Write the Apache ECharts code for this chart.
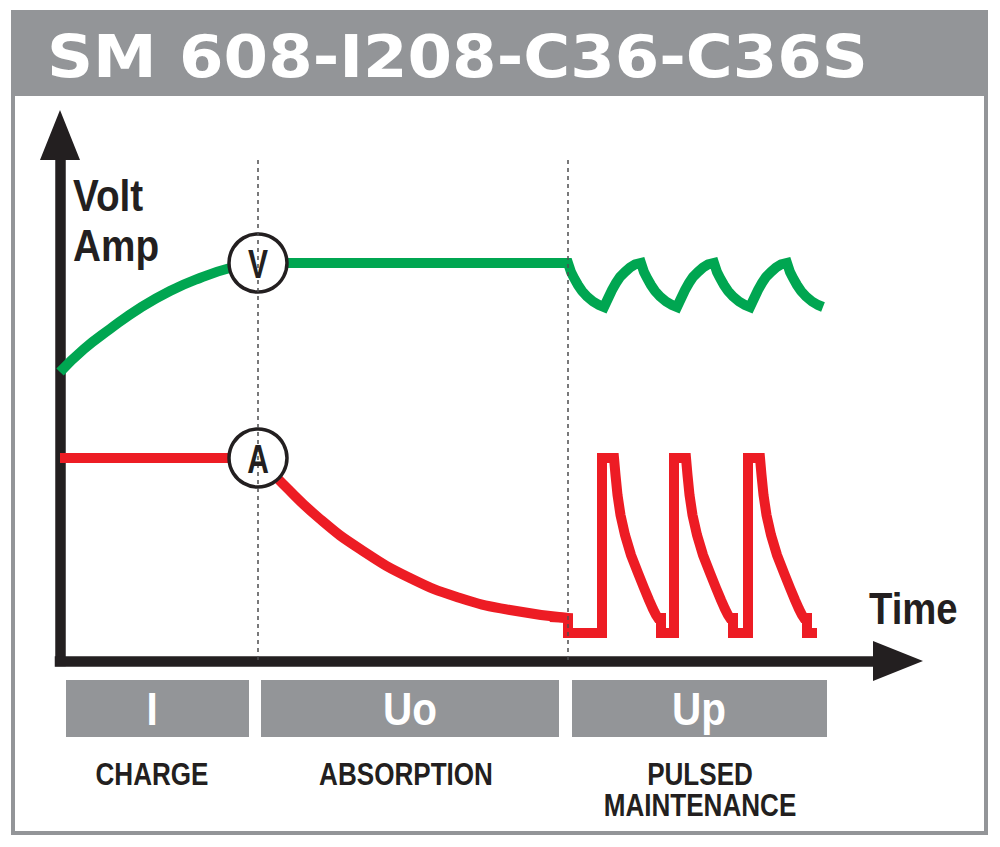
<!DOCTYPE html>
<html>
<head>
<meta charset="utf-8">
<script src="https://cdn.jsdelivr.net/npm/echarts@6/dist/echarts.min.js"></script>
<style>
  html, body { margin: 0; padding: 0; background: #ffffff; }
  #chart { width: 1000px; height: 847px; }
</style>
</head>
<body>
<div id="chart"></div>
<script>
// ---------- data (time units / level units) ----------
const titleText = 'SM 608-I208-C36-C36S';
const timeRange = [0, 419];
const levelRange = [0, 263];

// Voltage (green)
const greenChargeCurve = [[0,144.5],[12,156],[25,166],[40,176.5],[55,185],[70,191.5],[85,196.5],[99,199]];
const greenHoldAndPulse = [
  [99,199],[254,199],
  [255.5,194.5],[257,191.5],[259,188],[261,185],[263.5,182.25],[266.5,179.75],[269.5,178],[272,177],
  [274,181.25],[276,185.5],[278,189],[280,192],[282.5,194.5],[285,196.75],[287.5,198.25],[290.5,199],
  [292,194.5],[293.5,191.5],[295.5,188],[297.5,185],[300,182.25],[303,179.75],[306,178],[308.5,177],
  [310.5,181.25],[312.5,185.5],[314.5,189],[316.5,192],[319,194.5],[321.5,196.75],[324,198.25],[327,199],
  [328.5,194.5],[330,191.5],[332,188],[334,185],[336.5,182.25],[339.5,179.75],[342.5,178],[345,177],
  [347,181.25],[349,185.5],[351,189],[353,192],[355.5,194.5],[358,196.75],[360.5,198.25],[363.5,199],
  [365,194.5],[366.5,191.5],[368.5,188],[370.5,185],[373,182.25],[376,179.75],[379,178],[381.5,177]
];

// Current (red)
const redChargeFlat = [[0,101.5],[99,101.5]];
const redAbsorptionCurve = [[99,101.5],[111.5,88.5],[130,71],[150,56],[175,41.5],[200,31.5],[225,25.5],[254,21.5]];
const redPulses = [
  [245,22],[254,21.5],[254,14],[271,14],[271,101.5],[277,101.5],
  [277.75,93],[278.75,83],[280.25,73],[282.5,63],[285.5,53],[289,44],[292,36.5],[294.5,30.5],[296.5,26],[298,23],[299,21.5],
  [300.5,21.5],[300.5,14],[307,14],[307,101.5],[313,101.5],
  [313.75,93],[314.75,83],[316.25,73],[318.5,63],[321.5,53],[325,44],[328,36.5],[330.5,30.5],[332.5,26],[334,23],[335,21.5],
  [336.5,21.5],[336.5,14],[344,14],[344,101.5],[350,101.5],
  [350.75,93],[351.75,83],[353.25,73],[355.5,63],[358.5,53],[362,44],[365,36.5],[367.5,30.5],[369.5,26],[371,23],[372,21.5],
  [373.5,21.5],[373.5,14],[378.5,14]
];

const phaseBoundaries = [99, 254];
const dashTop = 250.5;
const markerPoints = [[99,199,'V'],[99,101.5,'A']];
const phaseCodes = ['I', 'Uo', 'Up'];
const phaseNames = ['CHARGE', 'ABSORPTION', 'PULSED\nMAINTENANCE'];
const yAxisLabel = 'Volt\nAmp';
const xAxisLabel = 'Time';

// ---------- styling ----------
const GREEN = '#00a651';
const RED = '#ed1c24';
const INK = '#231f20';
const GRAY = '#939598';
const SANS = '"Liberation Sans", Arial, Helvetica, sans-serif';

const segments = [
  { data: greenChargeCurve, color: GREEN, smooth: true },
  { data: greenHoldAndPulse, color: GREEN, smooth: false },
  { data: redChargeFlat, color: RED, smooth: false },
  { data: redAbsorptionCurve, color: RED, smooth: true },
  { data: redPulses, color: RED, smooth: false }
];

const series = segments.map(s => ({
  type: 'line',
  data: s.data,
  smooth: s.smooth,
  showSymbol: false,
  symbol: 'none',
  silent: true,
  z: 2,
  lineStyle: { color: s.color, width: 10, join: 'miter', cap: 'butt' }
}));

series.push({
  type: 'line',
  data: [],
  silent: true,
  z: 3,
  markLine: {
    silent: true,
    symbol: ['none', 'none'],
    label: { show: false },
    lineStyle: { type: [4, 4], color: '#4d4d4f', width: 1.5 },
    data: phaseBoundaries.map(x => [{ coord: [x, dashTop] }, { coord: [x, 0] }])
  }
});

series.push({
  type: 'scatter',
  data: markerPoints,
  symbol: 'circle',
  symbolSize: 58,
  silent: true,
  z: 4,
  itemStyle: { color: '#ffffff', borderColor: INK, borderWidth: 3.5, opacity: 1 },
  label: { show: false },
  emphasis: { disabled: true }
});

function txt(x, y, text, size, opts) {
  const o = opts || {};
  return {
    type: 'text', x: x, y: y, scaleX: o.sx || 1, silent: true, z: o.z || 10,
    style: {
      text: text, fill: o.fill || INK, fontFamily: o.family || SANS, fontWeight: 'bold',
      fontSize: size, textAlign: o.align || 'left', textVerticalAlign: 'middle'
    }
  };
}

// phase boxes
const boxes = [[66, 183], [261, 298], [572, 255]];
const codeX = [152, 410, 699];
const nameX = [152, 406, 700];
const graphic = [
  { type: 'rect', shape: { x: 13, y: 12, width: 973, height: 821 }, style: { fill: '#ffffff', stroke: GRAY, lineWidth: 4 }, z: -10, silent: true },
  { type: 'rect', shape: { x: 11, y: 10, width: 977, height: 86 }, style: { fill: GRAY }, z: -9, silent: true },
  txt(47, 57, titleText, 59, { fill: '#ffffff', family: '"DejaVu Sans", Verdana, sans-serif', sx: 1.085 }),
  txt(73, 196, yAxisLabel.split('\n')[0], 44, { sx: 0.88 }),
  txt(73, 246, yAxisLabel.split('\n')[1], 44, { sx: 0.88 }),
  txt(869, 609, xAxisLabel, 44, { sx: 0.87 })
];
boxes.forEach((b, i) => {
  graphic.push({ type: 'rect', shape: { x: b[0], y: 680, width: b[1], height: 57 }, style: { fill: GRAY }, silent: true });
  graphic.push(txt(codeX[i], 709, phaseCodes[i], 46, { fill: '#ffffff', align: 'center', sx: 0.88 }));
  phaseNames[i].split('\n').forEach((ln, j) => {
    graphic.push(txt(nameX[i], 774 + j * 31, ln, 30.5, { align: 'center', sx: 0.855 }));
  });
});

const axisLineCommon = {
  show: true,
  symbol: ['none', 'triangle'],
  symbolSize: [40, 50],
  lineStyle: { color: INK, width: 10.5, cap: 'square' }
};

const option = {
  animation: false,
  backgroundColor: '#ffffff',
  grid: { left: 60, right: 102, top: 135, bottom: 186, containLabel: false },
  xAxis: {
    type: 'value', min: timeRange[0], max: timeRange[1],
    axisLine: axisLineCommon,
    axisTick: { show: false }, axisLabel: { show: false }, splitLine: { show: false }
  },
  yAxis: {
    type: 'value', min: levelRange[0], max: levelRange[1],
    axisLine: axisLineCommon,
    axisTick: { show: false }, axisLabel: { show: false }, splitLine: { show: false }
  },
  graphic: graphic,
  series: series
};

const chart = echarts.init(document.getElementById('chart'), null, { renderer: 'svg' });
chart.setOption(option);

// marker letters placed at the marker data points through the chart's own scales
const letterGraphics = markerPoints.map(p => {
  const px = chart.convertToPixel({ gridIndex: 0 }, [p[0], p[1]]);
  return txt(px[0], px[1] + 1, p[2], 40, { align: 'center', sx: 0.75, z: 20 });
});
chart.setOption({ graphic: graphic.concat(letterGraphics) });
</script>
</body>
</html>
